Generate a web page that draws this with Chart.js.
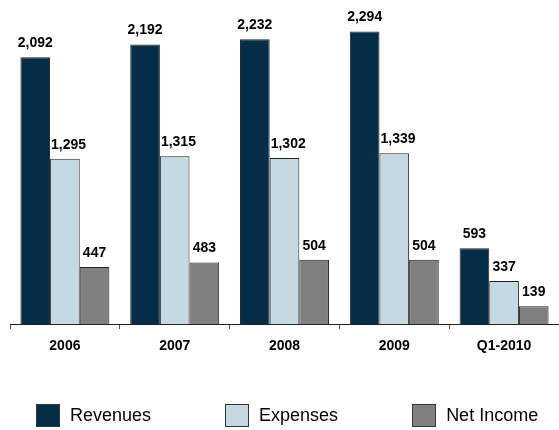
<!DOCTYPE html>
<html lang="en">
<head>
    <meta charset="UTF-8">
    <title>Revenues, Expenses and Net Income</title>
    <script src="https://cdn.jsdelivr.net/npm/chart.js"></script>
    <style>
        body {
            margin: 0;
            background: #ffffff;
            font-family: "Liberation Sans", Arial, sans-serif;
        }
        .wrap {
            position: relative;
            width: 559px;
            height: 430px;
        }
        #legend {
            position: absolute;
            left: 36px;
            top: 404px;
            width: 523px;
            display: flex;
            white-space: nowrap;
        }
        .item {
            display: flex;
            align-items: center;
            flex: none;
            margin-right: 74px;
            font-size: 18px;
            line-height: 23px;
            color: #000;
        }
        .box {
            width: 22px;
            height: 21px;
            border: 1px solid #333;
            margin-right: 10px;
        }
    </style>
</head>
<body>
    <div class="wrap">
        <canvas id="finChart"></canvas>
        <div id="legend"></div>
    </div>
    <script>
        // Values
        const categories = ["2006", "2007", "2008", "2009", "Q1-2010"];
        const revenues = [2092, 2192, 2232, 2294, 593];
        const expenses = [1295, 1315, 1302, 1339, 337];
        const netIncome = [447, 483, 504, 504, 139];

        const FONT = '"Liberation Sans", Arial, sans-serif';

        // Value labels above each bar; a label is pushed right if the taller bar to its left would cover it
        const barLabels = {
            id: 'barLabels',
            afterDatasetsDraw(chart) {
                const ctx = chart.ctx;
                ctx.save();
                ctx.font = 'bold 14px ' + FONT;
                ctx.fillStyle = '#000';
                ctx.textAlign = 'left';
                ctx.textBaseline = 'alphabetic';
                chart.data.datasets.forEach((ds, di) => {
                    chart.getDatasetMeta(di).data.forEach((bar, i) => {
                        const text = ds.data[i].toLocaleString('en-US');
                        const w = ctx.measureText(text).width;
                        const base = bar.y - 10;
                        let left = bar.x - w / 2;
                        if (di > 0) {
                            const prev = chart.getDatasetMeta(di - 1).data[i];
                            if (prev.y < base - 11) {
                                left = Math.max(left, prev.x + prev.width / 2 + 1);
                            }
                        }
                        ctx.fillText(text, left, base);
                    });
                });
                ctx.restore();
            }
        };

        const ctx = document.getElementById('finChart').getContext('2d');
        const chart = new Chart(ctx, {
            type: 'bar',
            data: {
                labels: categories,
                datasets: [
                    { label: 'Revenues', data: revenues, backgroundColor: '#052d47' },
                    { label: 'Expenses', data: expenses, backgroundColor: '#c6d8e2' },
                    { label: 'Net Income', data: netIncome, backgroundColor: '#808080' }
                ]
            },
            options: {
                responsive: true,
                maintainAspectRatio: false,
                animation: false,
                layout: { padding: { left: 10, right: -4, top: 0, bottom: 0 } },
                datasets: {
                    bar: {
                        borderColor: '#222',
                        borderWidth: 1,
                        barPercentage: 1,
                        categoryPercentage: 0.81
                    }
                },
                plugins: {
                    legend: { display: false },
                    tooltip: { enabled: false }
                },
                scales: {
                    x: {
                        grid: {
                            display: true,
                            drawOnChartArea: false,
                            offset: true,
                            tickLength: 5,
                            color: '#555'
                        },
                        border: { color: '#222', width: 1 },
                        ticks: {
                            color: '#000',
                            padding: 9,
                            font: { family: FONT, size: 14, weight: 'bold' }
                        },
                        afterFit(scale) { scale.height = 106; }
                    },
                    y: {
                        display: false,
                        min: 0,
                        max: 2540
                    }
                }
            },
            plugins: [barLabels]
        });

        // Legend built from the datasets
        const legend = document.getElementById('legend');
        chart.data.datasets.forEach(ds => {
            const item = document.createElement('div');
            item.className = 'item';
            const box = document.createElement('span');
            box.className = 'box';
            box.style.background = ds.backgroundColor;
            item.appendChild(box);
            item.appendChild(document.createTextNode(ds.label));
            legend.appendChild(item);
        });
    </script>
</body>
</html>
